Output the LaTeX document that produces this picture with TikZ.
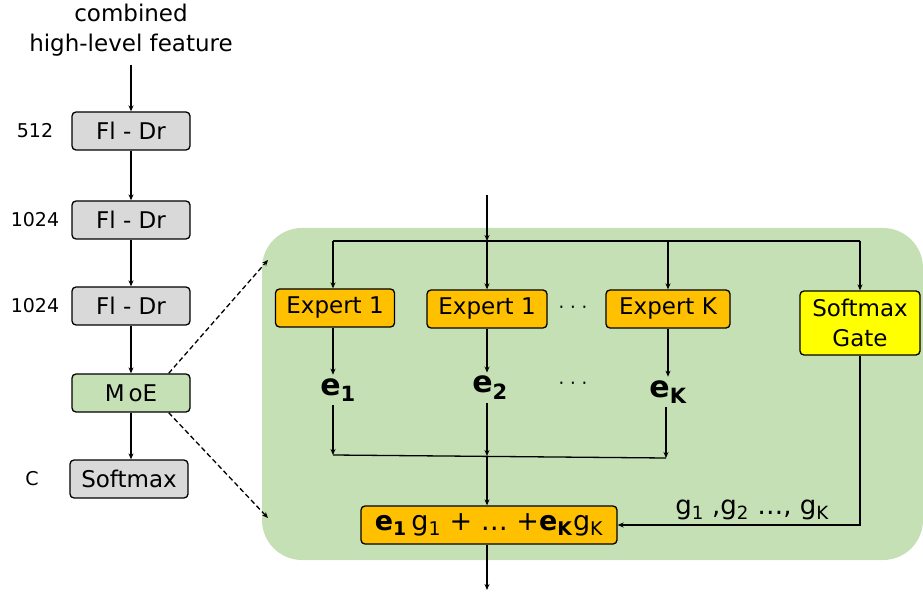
\documentclass[tikz,border=0pt]{standalone}
\usepackage{fontspec}
\setmainfont{DejaVu Sans}
\usetikzlibrary{arrows.meta}

\definecolor{layergray}{HTML}{D9D9D9}
\definecolor{moegreen}{HTML}{C5E0B4}
\definecolor{expertorange}{HTML}{FFC000}
\definecolor{gateyellow}{HTML}{FFFF00}

\tikzset{
  layer/.style={draw,line width=1.3pt,rounded corners=4pt,minimum width=118pt,
    minimum height=38pt,inner sep=0pt,font=\fontsize{23}{26}\selectfont},
  sizelabel/.style={font=\fontsize{19}{22}\selectfont},
  evec/.style={font=\fontsize{30}{32}\selectfont\bfseries},
  flow/.style={line width=1.3pt,-{Stealth[length=6pt,width=5pt]}},
}

\begin{document}
\begin{tikzpicture}[x=1pt,y=-1pt]

      \useasboundingbox (0,0) rectangle (923,593);

      % mixture of experts panel
      \fill[moegreen,rounded corners=40pt] (262,228) rectangle (923,560);

      \node[align=center,font=\fontsize{23}{30}\selectfont] (in) at (131,30)
        {combined\\high-level feature};
      \coordinate (inend) at (131,65);

      \begin{scope}[every node/.style={layer,fill=layergray}]
        \node (fd1) at (131,131) {Fl - Dr};
        \node (fd2) at (131,220) {Fl - Dr};
        \node (fd3) at (131,306) {Fl - Dr};
        \node[fill=moegreen] (moe) at (131,393) {M\,oE};
        \node (soft) at (129,479) {Softmax};
      \end{scope}

      \begin{scope}[every node/.style={sizelabel}]
        \node (n1) at (35,131) {512};
        \node (n2) at (35,220) {1024};
        \node (n3) at (35,306) {1024};
        \node (n4) at (32,479) {C};
      \end{scope}

      \begin{scope}[every edge/.style={draw,flow}]
        \path (inend) edge (fd1);
        \path (fd1) edge (fd2);
        \path (fd2) edge (fd3);
        \path (fd3) edge (moe);
        \path (moe) edge (soft.north -| moe);
      \end{scope}

      % zoom into the MoE block
      \coordinate (zin) at (268,260);
      \coordinate (zout) at (268,518);
      \draw[flow,dash pattern=on 5pt off 3pt] ([xshift=-22pt]moe.north east) -- (zin);
      \draw[flow,dash pattern=on 5pt off 3pt] ([xshift=-22pt]moe.south east) -- (zout);

      \begin{scope}[every node/.style={layer,fill=expertorange}]
        \node[minimum width=119pt] (ex1) at (335,308) {Expert 1};
        \node[minimum width=120pt] (ex2) at (487,309) {Expert 1};
        \node[minimum width=124pt] (exk) at (668,309) {Expert K};
        \node[fill=gateyellow,align=center,minimum width=120pt,minimum height=64pt,
          font=\fontsize{23}{30}\selectfont] (gate) at (860,323) {Softmax\\Gate};
        \node[minimum width=256pt,font=\fontsize{27}{30}\selectfont] (sum) at (489,525)
          {\textbf{e}\textsubscript{\textbf{1}}\,g\textsubscript{1} + … +\textbf{e}\textsubscript{\textbf{K}}g\textsubscript{K}};
      \end{scope}

      \node[font=\fontsize{18}{20}\selectfont] (dots1) at (573,310) {·\ ·\ ·};
      \node[font=\fontsize{18}{20}\selectfont] (dots2) at (573,386) {·\ ·\ ·};

      \begin{scope}[every node/.style={evec}]
        \node (e1) at (338,390) {e\textsubscript{1}};
        \node (e2) at (490,388) {e\textsubscript{2}};
        \node (ek) at (668,392) {e\textsubscript{K}};
      \end{scope}

      % input bus
      \coordinate (top) at (487,195);
      \coordinate (bus) at (487,241);
      \coordinate (busl) at (333,241);
      \coordinate (busr) at (860,241);
      \draw[line width=1.3pt] (busl) -- (busr);
      \draw[flow] (top) -- (bus);

      \begin{scope}[every edge/.style={draw,flow}]
        \path (busl) edge (busl |- ex1.north);
        \path (bus) edge (ex2.north);
        \path (busr -| exk) edge (exk.north);
        \path (busr) edge (gate.north);
        \path (ex1.south -| busl) edge (e1.north -| busl);
        \path (ex2) edge (ex2 |- e2.north);
        \path (exk) edge (exk |- ek.north);
      \end{scope}

      % output bus
      \coordinate (outl) at (333,455);
      \coordinate (outm) at (487,456);
      \coordinate (outr) at (666,458);
      \coordinate (outend) at (487,590);
      \coordinate (gc) at (860,525);
      \draw[line width=1.3pt] (outl) -- (outr);

      \begin{scope}[every edge/.style={draw,flow}]
        \path (e1.south -| outl) edge (outl);
        \path (e2.south -| outm) edge (outm);
        \path (ek.south -| outr) edge (outr);
        \path (outm) edge (sum.north -| outm);
        \path (sum.south -| outm) edge (outend);
      \end{scope}

      \draw[flow] (gate.south) -- (gc) -- (sum.east);
      \node[font=\fontsize{26}{28}\selectfont] (glabel) at (752,510)
        {g\textsubscript{1} ,g\textsubscript{2} …, g\textsubscript{K}};

    \end{tikzpicture}
\end{document}
